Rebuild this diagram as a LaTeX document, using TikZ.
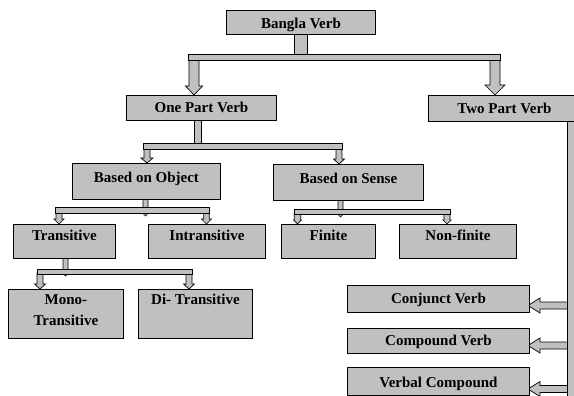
\documentclass[tikz,border=0pt]{standalone}
\usepackage{fontspec}
\setmainfont{Liberation Serif}
\definecolor{boxgray}{RGB}{192,192,192}
\tikzset{
  box/.style n args={3}{draw=black, fill=boxgray, line width=0.9pt, anchor=north west,
    inner xsep=0pt, inner ysep=0pt, minimum width=#1,
    text height=#2, text depth=#3, align=center,
    font=\fontsize{15}{21}\selectfont\bfseries},
  conn/.style={draw=black, fill=boxgray, line width=0.7pt, line join=miter}
}
% down block arrow: x, ytop, ytip, shaft half width, head half width, head length
\newcommand\blockdown[6]{%
  \path[conn] (#1-#4,#2) -- (#1+#4,#2) -- (#1+#4,#3-#6) -- (#1+#5,#3-#6) -- (#1,#3)
    -- (#1-#5,#3-#6) -- (#1-#4,#3-#6) -- cycle;}
% left block arrow: xstart, xtip, ycenter, shaft half, head half, head length
\newcommand\blockleft[6]{%
  \path[conn] (#1,#3-#4) -- (#2+#6,#3-#4) -- (#2+#6,#3-#5) -- (#2,#3)
    -- (#2+#6,#3+#5) -- (#2+#6,#3+#4) -- (#1,#3+#4) -- cycle;}
\begin{document}
\begin{tikzpicture}[x=1pt,y=-1pt]
\useasboundingbox (0,0) rectangle (574,396);
\fill[white] (0,0) rectangle (574,396);

% ---- connectors (drawn first) ----
% Bangla Verb -> top bar
\path[conn] (294,33) rectangle (307,55);
\blockdown{194}{59}{95}{5}{8.5}{9}
\blockdown{495}{59}{95}{5}{10}{10}
\path[conn] (188,54) rectangle (500,60);

% One Part Verb -> bar 2
\path[conn] (194,119) rectangle (201,144);
\blockdown{147}{148}{163}{3}{6}{5}
\blockdown{339}{148}{164}{3}{5.5}{5}
\path[conn] (143,143) rectangle (342,149);

% Based on Object -> bar 3a
\blockdown{145.5}{198}{216}{2.5}{5}{5}
\blockdown{59}{212}{224}{3}{5}{5}
\blockdown{206.5}{212}{224}{2.7}{5}{5}
\path[conn] (55,207) rectangle (209,213);

% Based on Sense -> bar 3b
\blockdown{340.5}{199}{217}{2.5}{5}{5}
\blockdown{297.5}{213}{224}{3.2}{3.8}{4}
\blockdown{447}{213}{224}{3}{4}{4}
\path[conn] (294,209) rectangle (450,214);

% Transitive -> bar 4
\blockdown{65.5}{257}{276}{2.5}{5}{5}
\blockdown{40}{273}{289}{3}{5.5}{5}
\blockdown{189}{273}{289}{3}{5.5}{5}
\path[conn] (37,269) rectangle (192,274);

% Two Part Verb vertical bar and left arrows
\blockleft{568}{528}{305.5}{3.5}{7.5}{12}
\blockleft{568}{528}{345.5}{3.5}{7.5}{12}
\blockleft{568}{528}{389}{3.5}{7.5}{12}
\path[conn] (567.5,120) rectangle (580,400);

% ---- boxes ----
\node[box={149pt}{17.7pt}{6.3pt}] (bangla) at (226,10) {Bangla Verb};
\node[box={150pt}{17pt}{8pt}] (one) at (126,95) {One Part Verb};
\node[box={152pt}{18.5pt}{7.5pt}] (two) at (428,95) {Two Part Verb};
\node[box={148pt}{19.5pt}{16.5pt}] (obj) at (72,163) {Based on Object};
\node[box={150pt}{18.7pt}{17.3pt}] (sense) at (273,164) {Based on Sense};
\node[box={102pt}{16.5pt}{17.5pt}] (trans) at (13,224) {Transitive};
\node[box={117pt}{16.5pt}{17.5pt}] (intrans) at (148,224) {Intransitive};
\node[box={94pt}{16.5pt}{17.5pt}] (finite) at (281,224) {Finite};
\node[box={117pt}{16.5pt}{17.5pt}] (nonfinite) at (399,224) {Non-finite};
\node[box={115pt}{36.5pt}{12.5pt}] (mono) at (8,289) {Mono-\\Transitive};
\node[box={114pt}{15.5pt}{33.5pt}] (di) at (138,289) {Di- Transitive};
\node[box={182pt}{17.7pt}{9.3pt}] (conj) at (347,285) {Conjunct Verb};
\node[box={182pt}{17pt}{8pt}] (comp) at (347,328) {Compound Verb};
\node[box={182pt}{19.7pt}{8.3pt}] (verbal) at (347,367) {Verbal Compound};
\end{tikzpicture}
\end{document}
